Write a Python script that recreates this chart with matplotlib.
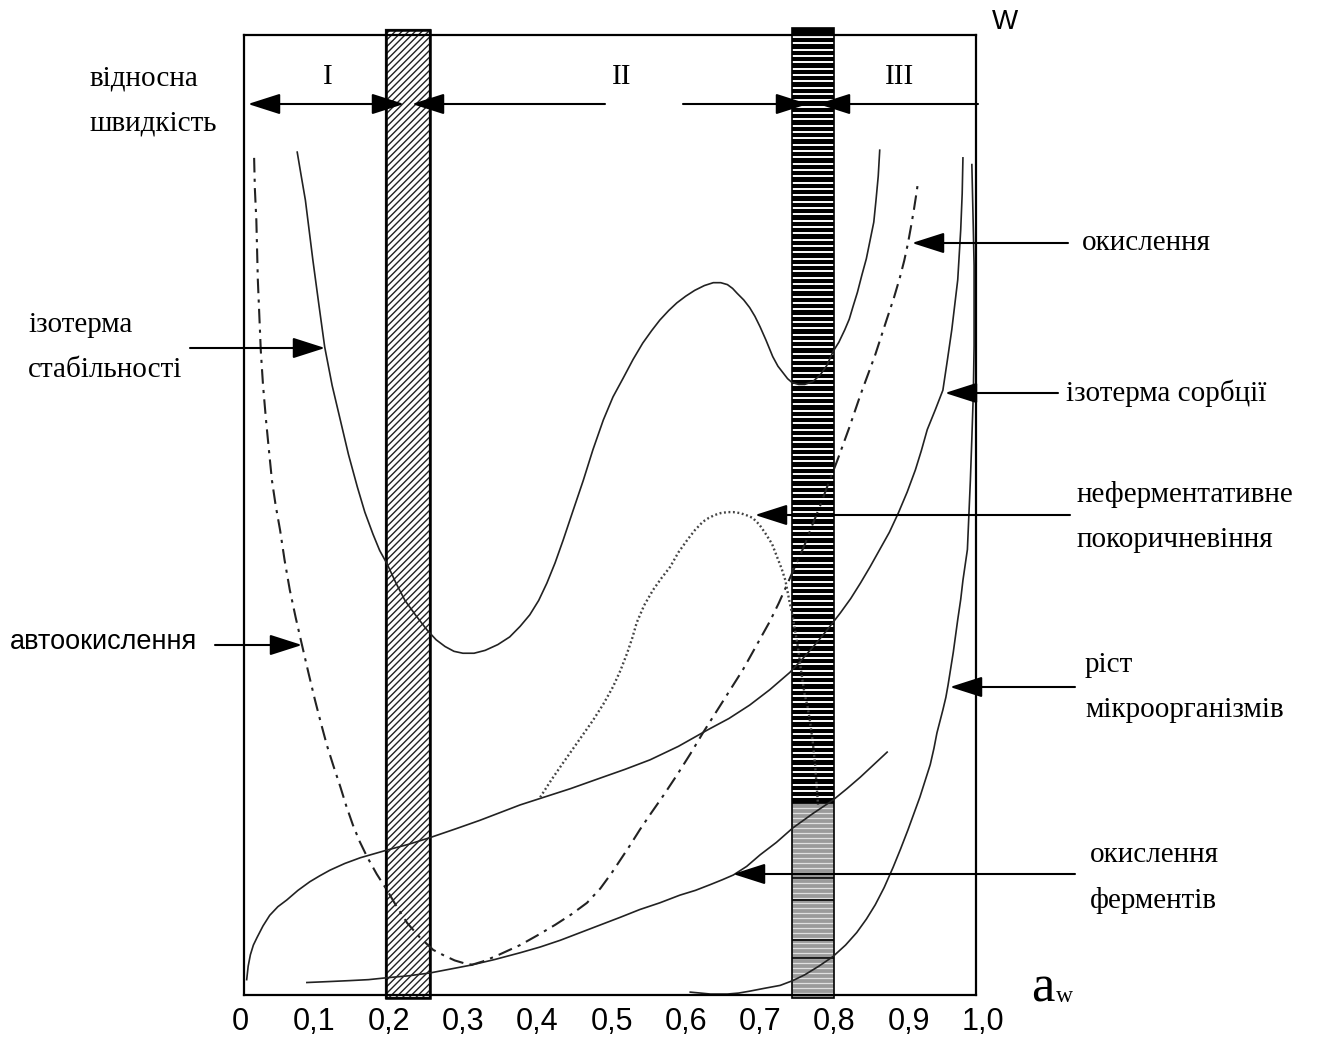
import numpy as np
import matplotlib
matplotlib.use("Agg")
import matplotlib.pyplot as plt
from matplotlib.patches import Rectangle

plt.rcParams['hatch.linewidth'] = 1.0

# water activity ticks
tick_pos = [0.0, 0.1, 0.2, 0.3, 0.4, 0.5, 0.6, 0.7, 0.8, 0.9, 1.0]
tick_lbl = ["0", "0,1", "0,2", "0,3", "0,4", "0,5", "0,6", "0,7", "0,8", "0,9", "1,0"]

# isotherm of stability (relative rate vs a_w)
stab_x = [0.077, 0.082, 0.088, 0.093, 0.098, 0.106, 0.114, 0.124, 0.135, 0.146, 0.158, 0.168,
          0.179, 0.188, 0.198, 0.210, 0.222, 0.237, 0.252, 0.264, 0.276, 0.288, 0.300, 0.315,
          0.330, 0.347, 0.363, 0.377, 0.390, 0.402, 0.413, 0.424, 0.435, 0.448, 0.462, 0.475,
          0.489, 0.502, 0.516, 0.529, 0.542, 0.554, 0.565, 0.577, 0.588, 0.600, 0.612, 0.625,
          0.637, 0.647, 0.656, 0.663, 0.669, 0.678, 0.686, 0.693, 0.700, 0.708, 0.717, 0.724,
          0.730, 0.737, 0.743, 0.752, 0.760, 0.771, 0.781, 0.790, 0.798, 0.806, 0.814, 0.820,
          0.825, 0.831, 0.837, 0.843, 0.848, 0.853, 0.856, 0.859, 0.861]
stab_y = [0.878, 0.855, 0.828, 0.797, 0.766, 0.720, 0.675, 0.635, 0.599, 0.563, 0.529, 0.503,
          0.480, 0.463, 0.449, 0.429, 0.411, 0.395, 0.380, 0.370, 0.363, 0.358, 0.356, 0.356,
          0.359, 0.365, 0.373, 0.384, 0.396, 0.411, 0.429, 0.450, 0.474, 0.504, 0.536, 0.568,
          0.599, 0.623, 0.643, 0.662, 0.679, 0.692, 0.703, 0.713, 0.721, 0.728, 0.734, 0.739,
          0.742, 0.742, 0.740, 0.736, 0.731, 0.724, 0.716, 0.707, 0.696, 0.682, 0.665, 0.655,
          0.649, 0.642, 0.638, 0.636, 0.636, 0.639, 0.646, 0.656, 0.670, 0.680, 0.693, 0.704,
          0.717, 0.732, 0.750, 0.767, 0.786, 0.805, 0.828, 0.853, 0.880]

# autooxidation
auto_x = [0.019, 0.020, 0.022, 0.023, 0.024, 0.026, 0.028, 0.031, 0.035, 0.039, 0.043, 0.048,
          0.054, 0.060, 0.067, 0.075, 0.083, 0.092, 0.101, 0.109, 0.117, 0.126, 0.135, 0.143,
          0.152, 0.161, 0.171, 0.184, 0.198, 0.211, 0.225, 0.242, 0.260, 0.275, 0.289, 0.302,
          0.316]
auto_y = [0.872, 0.840, 0.807, 0.776, 0.745, 0.708, 0.671, 0.635, 0.599, 0.567, 0.536, 0.510,
          0.484, 0.453, 0.422, 0.393, 0.366, 0.336, 0.307, 0.283, 0.260, 0.238, 0.217, 0.197,
          0.177, 0.160, 0.144, 0.126, 0.109, 0.092, 0.075, 0.060, 0.047, 0.041, 0.036, 0.033,
          0.031]

# oxidation
oxid_x = [0.310, 0.327, 0.343, 0.360, 0.377, 0.400, 0.424, 0.446, 0.467, 0.485, 0.501, 0.513,
          0.525, 0.538, 0.552, 0.570, 0.588, 0.606, 0.623, 0.650, 0.677, 0.695, 0.713, 0.725,
          0.736, 0.748, 0.760, 0.770, 0.781, 0.792, 0.804, 0.820, 0.835, 0.845, 0.855, 0.863,
          0.871, 0.880, 0.888, 0.894, 0.899, 0.903, 0.907, 0.910, 0.913]
oxid_y = [0.031, 0.035, 0.040, 0.046, 0.052, 0.062, 0.073, 0.084, 0.096, 0.111, 0.128, 0.142,
          0.156, 0.172, 0.188, 0.208, 0.229, 0.251, 0.273, 0.306, 0.339, 0.364, 0.389, 0.408,
          0.427, 0.448, 0.469, 0.489, 0.510, 0.533, 0.557, 0.591, 0.625, 0.646, 0.667, 0.686,
          0.705, 0.726, 0.747, 0.765, 0.783, 0.800, 0.818, 0.833, 0.849]

# sorption isotherm
sorb_x = [0.009, 0.011, 0.014, 0.018, 0.023, 0.031, 0.040, 0.051, 0.063, 0.078, 0.094, 0.107,
          0.121, 0.141, 0.162, 0.180, 0.198, 0.227, 0.256, 0.290, 0.323, 0.350, 0.377, 0.405,
          0.445, 0.485, 0.518, 0.552, 0.590, 0.629, 0.658, 0.686, 0.713, 0.740, 0.757, 0.774,
          0.791, 0.808, 0.822, 0.835, 0.848, 0.861, 0.874, 0.886, 0.898, 0.909, 0.917, 0.925,
          0.936, 0.946, 0.952, 0.958, 0.962, 0.966, 0.968, 0.970, 0.972, 0.973]
sorb_y = [0.016, 0.030, 0.042, 0.052, 0.060, 0.072, 0.083, 0.092, 0.099, 0.109, 0.118, 0.124,
          0.130, 0.137, 0.143, 0.147, 0.151, 0.157, 0.164, 0.173, 0.182, 0.190, 0.198, 0.205,
          0.215, 0.226, 0.235, 0.245, 0.259, 0.276, 0.288, 0.302, 0.318, 0.336, 0.350, 0.365,
          0.381, 0.398, 0.413, 0.429, 0.446, 0.464, 0.482, 0.502, 0.524, 0.547, 0.567, 0.589,
          0.610, 0.630, 0.661, 0.693, 0.719, 0.745, 0.771, 0.797, 0.835, 0.872]

# enzymatic oxidation
enz_x = [0.090, 0.120, 0.148, 0.173, 0.198, 0.227, 0.256, 0.283, 0.310, 0.343, 0.377, 0.404,
         0.431, 0.458, 0.485, 0.512, 0.538, 0.565, 0.592, 0.613, 0.633, 0.649, 0.664, 0.682,
         0.700, 0.722, 0.744, 0.771, 0.798, 0.817, 0.835, 0.853, 0.871]
enz_y = [0.013, 0.014, 0.015, 0.016, 0.018, 0.020, 0.023, 0.027, 0.031, 0.037, 0.044, 0.050,
         0.057, 0.065, 0.073, 0.081, 0.089, 0.096, 0.104, 0.109, 0.115, 0.120, 0.125, 0.134,
         0.146, 0.159, 0.174, 0.189, 0.203, 0.215, 0.227, 0.240, 0.253]

# growth of microorganisms
micro_x = [0.606, 0.620, 0.633, 0.645, 0.656, 0.671, 0.686, 0.706, 0.727, 0.744, 0.760, 0.779,
           0.798, 0.815, 0.830, 0.843, 0.855, 0.867, 0.879, 0.889, 0.899, 0.907, 0.915, 0.922,
           0.929, 0.934, 0.938, 0.942, 0.946, 0.950, 0.953, 0.960, 0.966, 0.970, 0.973, 0.976,
           0.979, 0.981, 0.983, 0.985, 0.987, 0.988, 0.988, 0.988, 0.987, 0.985]
micro_y = [0.003, 0.002, 0.001, 0.001, 0.001, 0.002, 0.004, 0.007, 0.010, 0.015, 0.021, 0.030,
           0.040, 0.052, 0.065, 0.079, 0.094, 0.112, 0.133, 0.152, 0.172, 0.189, 0.206, 0.223,
           0.240, 0.257, 0.273, 0.285, 0.297, 0.310, 0.323, 0.357, 0.391, 0.412, 0.432, 0.448,
           0.464, 0.500, 0.536, 0.580, 0.627, 0.676, 0.724, 0.760, 0.797, 0.865]

# non-enzymatic browning
brown_x = [0.404, 0.419, 0.435, 0.455, 0.475, 0.489, 0.502, 0.512, 0.521, 0.528, 0.534, 0.544,
           0.556, 0.567, 0.579, 0.590, 0.602, 0.612, 0.623, 0.631, 0.639, 0.647, 0.656, 0.664,
           0.673, 0.681, 0.690, 0.699, 0.707, 0.716, 0.723, 0.729, 0.734, 0.737, 0.740, 0.744,
           0.747, 0.751, 0.754, 0.757, 0.760, 0.764, 0.767, 0.771, 0.774, 0.776, 0.778]
brown_y = [0.206, 0.224, 0.242, 0.264, 0.286, 0.303, 0.321, 0.338, 0.356, 0.372, 0.388, 0.406,
           0.422, 0.434, 0.446, 0.461, 0.474, 0.484, 0.493, 0.497, 0.500, 0.502, 0.503, 0.503,
           0.502, 0.500, 0.497, 0.490, 0.481, 0.470, 0.456, 0.444, 0.432, 0.420, 0.408, 0.394,
           0.380, 0.362, 0.344, 0.328, 0.313, 0.300, 0.286, 0.263, 0.240, 0.219, 0.198]

# zone boundaries
zone1 = (0.197, 0.256)
zone2 = (0.743, 0.799)


def px_x(p):
    return (p - 240) / 743.0


def px_y(p):
    return (995 - p) / 960.0


fig = plt.figure(figsize=(13.17, 10.39), dpi=100)
ax = fig.add_axes([244 / 1317, 44 / 1039, 732 / 1317, 960 / 1039])
ax.set_xlim(px_x(244), px_x(976))
ax.set_ylim(0, 1)
ax.set_xticks([])
ax.set_yticks([])
for s in ax.spines.values():
    s.set_linewidth(1.6)
    s.set_zorder(5)

# hatched band between zones I and II
ax.add_patch(Rectangle((zone1[0], -0.003), zone1[1] - zone1[0], 1.008,
                       facecolor='white', edgecolor='#222222', hatch='/////',
                       lw=1.6, clip_on=False, zorder=1))
ax.add_patch(Rectangle((zone1[0], -0.003), zone1[1] - zone1[0], 1.008, fill=False,
                       edgecolor='black', lw=1.8, clip_on=False, zorder=1.3))

# striped band between zones II and III
z2w = zone2[1] - zone2[0]
ax.add_patch(Rectangle((zone2[0], 0.2), z2w, 0.807, facecolor='black',
                       edgecolor='none', clip_on=False, zorder=1))
ax.add_patch(Rectangle((zone2[0], -0.003), z2w, 0.203, facecolor='#9a9a9a',
                       edgecolor='none', clip_on=False, zorder=1))
ax.hlines(np.arange(0.206, 1.004, 0.0066), zone2[0], zone2[1], colors='white',
          lw=1.4, clip_on=False, zorder=1.1)
ax.hlines(np.arange(0.002, 0.199, 0.0052), zone2[0], zone2[1], colors='#e0e0e0',
          lw=0.9, clip_on=False, zorder=1.1)
ax.hlines([px_y(p) for p in (803, 878, 900, 940, 958)], zone2[0], zone2[1],
          colors='black', lw=1.2, clip_on=False, zorder=1.2)
ax.add_patch(Rectangle((zone2[0], -0.003), z2w, 1.01, fill=False,
                       edgecolor='black', lw=1.2, clip_on=False, zorder=1.3))

# curves
lc = '#222222'
ax.plot(stab_x, stab_y, color=lc, lw=1.2, zorder=2)
ax.plot(sorb_x, sorb_y, color=lc, lw=1.2, zorder=2)
ax.plot(enz_x, enz_y, color=lc, lw=1.2, zorder=2)
ax.plot(micro_x, micro_y, color=lc, lw=1.2, zorder=2)
ax.plot(auto_x, auto_y, color=lc, lw=1.5, ls=(0, (7, 3, 1.5, 3)), zorder=2)
ax.plot(oxid_x, oxid_y, color=lc, lw=1.5, ls=(0, (7, 3, 1.5, 3)), zorder=2)
ax.plot(brown_x, brown_y, color='#444444', lw=1.7, ls=(0, (0.8, 1.1)), zorder=2)

head = dict(arrowstyle='-|>,head_length=1.0,head_width=0.32', mutation_scale=20,
            color='black', lw=1.5, shrinkA=0, shrinkB=0)
head2 = dict(head, arrowstyle='<|-|>,head_length=1.0,head_width=0.32')


def arrow(x0, y0, x1, y1, props=head):
    ax.annotate('', xy=(x1, y1), xytext=(x0, y0), xycoords='data',
                textcoords='data', arrowprops=props, annotation_clip=False, zorder=4)


# zone arrows along the top
ytop = px_y(104)
arrow(px_x(248), ytop, px_x(404), ytop, head2)
arrow(px_x(605), ytop, px_x(412), ytop)
arrow(px_x(683), ytop, px_x(808), ytop)
arrow(px_x(978), ytop, px_x(818), ytop)

serif = dict(family=['Liberation Serif', 'DejaVu Serif'], fontsize=21, va='center',
             ha='left', clip_on=False)
sans = dict(family=['Liberation Sans', 'DejaVu Sans'], fontsize=19.5, va='center',
            ha='left', clip_on=False)

for lbl, p in (("I", 328), ("II", 622), ("III", 900)):
    ax.text(px_x(p), px_y(77), lbl, **dict(serif, ha='center'))

ax.text(px_x(90), px_y(78), "відносна", **serif)
ax.text(px_x(90), px_y(124), "швидкість", **serif)

ax.text(px_x(28), px_y(325), "ізотерма", **serif)
ax.text(px_x(28), px_y(370), "стабільності", **serif)
arrow(px_x(190), px_y(348), px_x(325), px_y(348))

ax.text(px_x(10), px_y(642), "автоокислення", **sans)
arrow(px_x(215), px_y(645), px_x(302), px_y(645))

ax.text(px_x(1082), px_y(243), "окислення", **serif)
arrow(px_x(1068), px_y(243), px_x(912), px_y(243))

ax.text(px_x(1066), px_y(393), "ізотерма сорбції", **serif)
arrow(px_x(1058), px_y(393), px_x(945), px_y(393))

ax.text(px_x(1077), px_y(495), "неферментативне", **serif)
ax.text(px_x(1077), px_y(540), "покоричневіння", **serif)
arrow(px_x(1070), px_y(515), px_x(755), px_y(515))

ax.text(px_x(1085), px_y(665), "ріст", **serif)
ax.text(px_x(1085), px_y(710), "мікроорганізмів", **serif)
arrow(px_x(1075), px_y(687), px_x(950), px_y(687))

ax.text(px_x(1090), px_y(855), "окислення", **serif)
ax.text(px_x(1090), px_y(900), "ферментів", **serif)
arrow(px_x(1075), px_y(874), px_x(733), px_y(874))

# axis labels and ticks
ax.text(px_x(1005), px_y(22), "W", **dict(sans, ha='center', fontsize=20))
ax.text(px_x(1031), px_y(1002), "a", family=['Liberation Serif', 'DejaVu Serif'],
        fontsize=38, va='baseline', ha='left', clip_on=False)
ax.text(px_x(1056), px_y(1002), "w", family=['Liberation Serif', 'DejaVu Serif'],
        fontsize=17, va='baseline', ha='left', clip_on=False)
for t, lbl in zip(tick_pos, tick_lbl):
    ax.text(t, px_y(1022), lbl, family=['Liberation Sans Narrow', 'Liberation Sans'],
            fontsize=22, ha='center', va='center', clip_on=False)

fig.savefig("out.png", dpi=100)
